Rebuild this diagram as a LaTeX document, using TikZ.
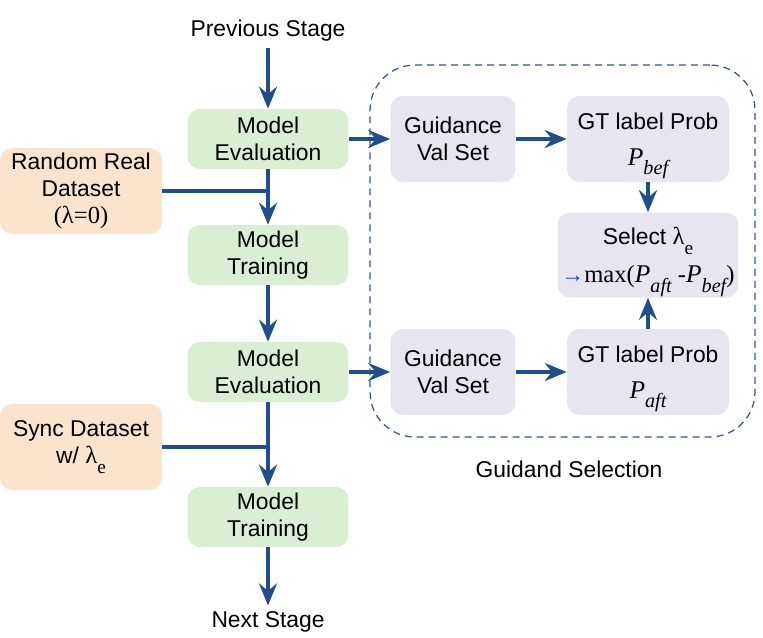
\documentclass[tikz,border=0pt]{standalone}
\usepackage{fontspec}
\setmainfont{Liberation Sans}
\newfontfamily\tms{Liberation Serif}
\usetikzlibrary{arrows.meta,positioning}
\definecolor{gsink}{HTML}{1F4E89}
\definecolor{gsframe}{HTML}{2E5A8C}
\definecolor{gsgreen}{HTML}{DAEED4}
\definecolor{gsorange}{HTML}{FCE4CC}
\definecolor{gspurple}{HTML}{E8E5F1}
\newcommand{\lame}{{\tms\fontsize{14}{15.5}\selectfont λ\raisebox{-0.9ex}{\fontsize{11}{11}\selectfont e}}}
\newcommand{\psub}[1]{{\tms\itshape\fontsize{14.5}{15.5}\selectfont P\raisebox{-0.8ex}{\fontsize{11.5}{11.5}\selectfont #1}}}

\begin{document}
\begin{tikzpicture}[x=0.02cm,y=-0.02cm,line join=round,
  font=\fontsize{13}{15.5}\selectfont,
  flow/.style={-{Stealth[length=0.44cm,width=0.36cm,inset=0.15cm]},gsink,line width=2.3pt},
  feed/.style={gsink,line width=2.3pt},
  box/.style={rounded corners=0.25cm,align=center,inner sep=2pt},
  model/.style={box,fill=gsgreen,minimum width=3.22cm,minimum height=1.2cm},
  data/.style={box,fill=gsorange,minimum width=3.24cm,minimum height=1.72cm},
  guide/.style={box,fill=gspurple,minimum height=1.72cm},
  prob/.style={guide,text depth=0pt}]
\path[use as bounding box] (0,0) rectangle (763,637);
\fill[white] (0,0) rectangle (763,637);

% main training chain
\node (prev) at (268,31) {Previous Stage};
\node[model] (eval1) at (268,139) {Model\\Evaluation};
\node[model] (train1) at (268,255) {Model\\Training};
\node[model] (eval2) at (268,372) {Model\\Evaluation};
\node[model] (train2) at (268,517) {Model\\Training};
\node (next) at (268,622) {Next Stage};
\node[data] (rrd) at (81,191) {Random Real\\Dataset\\{\tms\fontsize{14}{15.5}\selectfont(λ=0)}};
\node[data] (sync) at (81,447) {Sync Dataset\\w/ \lame};

% guidance selection
\node[draw=gsframe,line width=0.7pt,dash pattern=on 0.14cm off 0.1cm,rounded corners=0.9cm,
  minimum width=7.7cm,minimum height=7.44cm] (gsel) at (562.5,251) {};
\node (gsellbl) at (569,469) {Guidand Selection};
\node[guide,minimum width=2.5cm] (gval1) at (453,139) {Guidance\\Val Set};
\node[prob,minimum width=3.24cm] (gtbef) at (648,139) {GT label Prob\\[5pt]\psub{bef}};
\node[prob,minimum width=3.62cm,minimum height=1.7cm] (pick) at (648,255)
  {Select \lame\\[5pt]{\tms\fontsize{14}{15.5}\selectfont\textcolor{gsink}{\fontsize{13}{13}\selectfont→}max(\psub{aft} -\psub{bef})}};
\node[guide,minimum width=2.5cm] (gval2) at (453,372) {Guidance\\Val Set};
\node[prob,minimum width=3.24cm] (gtaft) at (648,372) {GT label Prob\\[5pt]\psub{aft}};

\draw[flow] (prev) -- (eval1);
\draw[flow] (eval1) -- (train1);
\draw[feed] (rrd.east) -- (rrd.east -| eval1.south);
\draw[flow] (train1) -- (eval2);
\draw[flow] (eval2) -- (train2);
\draw[feed] (sync.east) -- (sync.east -| eval2.south);
\draw[flow] (train2) -- (next);

\draw[flow] (eval1) -- (gval1);
\draw[flow] (gval1) -- (gtbef);
\draw[flow] (gtbef) -- (pick);
\draw[flow] (eval2) -- (gval2);
\draw[flow] (gval2) -- (gtaft);
\draw[flow] (gtaft) -- (pick);
\end{tikzpicture}
\end{document}
